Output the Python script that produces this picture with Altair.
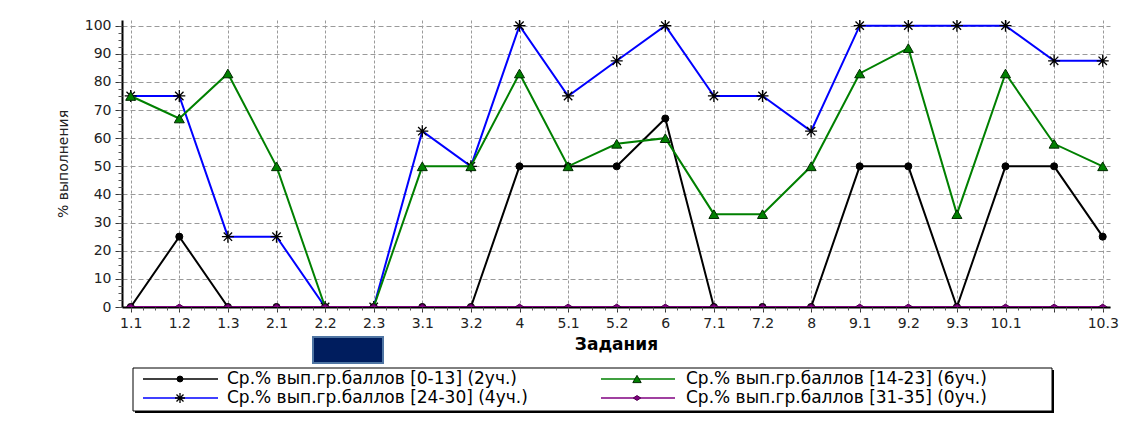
import json
import altair as alt
import pandas as pd

# ---------------- data ----------------
tasks = ["1.1", "1.2", "1.3", "2.1", "2.2", "2.3", "3.1", "3.2", "4", "5.1", "5.2",
         "6", "7.1", "7.2", "8", "9.1", "9.2", "9.3", "10.1", "10.2", "10.3"]
hidden_labels = ["10.2"]  # label not shown on the reference axis

series_names = [
    "Ср.% вып.гр.баллов [0-13] (2уч.)",
    "Ср.% вып.гр.баллов [14-23] (6уч.)",
    "Ср.% вып.гр.баллов [24-30] (4уч.)",
    "Ср.% вып.гр.баллов [31-35] (0уч.)",
]
vals_0_13 = [0, 25, 0, 0, 0, 0, 0, 0, 50, 50, 50, 67, 0, 0, 0, 50, 50, 0, 50, 50, 25]
vals_14_23 = [75, 67, 83, 50, 0, 0, 50, 50, 83, 50, 58, 60, 33, 33, 50, 83, 92, 33, 83, 58, 50]
vals_24_30 = [75, 75, 25, 25, 0, 0, 62.5, 50, 100, 75, 87.5, 100, 75, 75, 62.5, 100, 100, 100, 100, 87.5, 87.5]
vals_31_35 = [0, 0, 0, 0, 0, 0, 0, 0, 0, 0, 0, 0, 0, 0, 0, 0, 0, 0, 0, 0, 0]

all_vals = [vals_0_13, vals_14_23, vals_24_30, vals_31_35]
rows = []
for s, (name, vals) in enumerate(zip(series_names, all_vals)):
    for i, v in enumerate(vals):
        rows.append({"s": s, "series": name, "idx": i, "task": tasks[i], "value": v})
df = pd.DataFrame(rows)

# ---------------- layout helpers ----------------
PAD_L, PAD_T, PAD_R, PAD_B = 114, 12, 17, 118
W, H = 988, 287
X_DOM = [-0.179, 20.15]
Y_DOM = [0, 102]
ORX, ORY = 8 + PAD_L, 8 + PAD_T


def px_x(px):
    return X_DOM[0] + (px - ORX) * (X_DOM[1] - X_DOM[0]) / W


def px_y(py):
    return Y_DOM[1] - (py - ORY) * (Y_DOM[1] - Y_DOM[0]) / H


xs = alt.Scale(domain=X_DOM, nice=False, zero=False)
ys = alt.Scale(domain=Y_DOM, nice=False, zero=False)
FONT = "DejaVu Sans"

label_list = ["" if t in hidden_labels else t for t in tasks]
label_expr = json.dumps(label_list) + "[round(datum.value)]"

x_main = alt.Axis(values=list(range(len(tasks))), labelExpr=label_expr, grid=True,
                  gridDash=[3, 2], gridColor="#9a9a9a", gridWidth=1,
                  domainColor="black", domainWidth=2, tickColor="#333", tickSize=5,
                  labelFont=FONT, labelFontSize=14, labelColor="#222", labelPadding=4,
                  labelFlush=False, labelOverlap=False,
                  title="Задания", titleFont=FONT, titleFontSize=17,
                  titleFontWeight="bold", titleColor="black", titlePadding=6)
y_main = alt.Axis(values=list(range(0, 101, 10)), grid=True, gridDash=[5, 3],
                  gridColor="#9a9a9a", gridWidth=1, domainColor="black", domainWidth=2,
                  tickColor="#333", tickSize=7, labelFont=FONT, labelFontSize=14,
                  labelColor="#222", labelPadding=4,
                  title="% выполнения", titleFont=FONT, titleFontSize=14,
                  titleFontWeight="normal", titleColor="#222", titlePadding=14)
x_minor = alt.Axis(values=[i * 0.25 for i in range(0, 81)], labels=False, domain=False,
                   grid=False, tickColor="#555", tickSize=3, title=None, orient="bottom")
y_minor = alt.Axis(values=[i * 2.5 for i in range(0, 41)], labels=False, domain=False,
                   grid=False, tickColor="#555", tickSize=4, title=None, orient="left")

styles = [
    dict(line="#000000", shape="circle", size=50, fill="#000000", stroke="#000000", sw=1, filled=True),
    dict(line="#008000", shape="triangle-up", size=100, fill="#008000", stroke="#002a00", sw=1, filled=True),
    dict(line="#0000ff", shape="M-1,0L1,0M0,-1L0,1M-0.7,-0.7L0.7,0.7M-0.7,0.7L0.7,-0.7",
         size=144, fill="none", stroke="#000000", sw=1.3, filled=False),
    dict(line="#800080", shape="M-1,0L0,-0.65L1,0L0,0.65Z", size=80, fill="#800080",
         stroke="#500050", sw=1, filled=True),
]

base = alt.Chart(df)
layers = []
draw_order = [0, 2, 1, 3]
for k, s in enumerate(draw_order):
    st = styles[s]
    d = base.transform_filter(alt.datum.s == s)
    if k == 0:
        xa, ya = x_main, y_main
    elif k == 1:
        xa, ya = x_minor, y_minor
    else:
        xa, ya = None, None
    layers.append(d.mark_line(color=st["line"], strokeWidth=2, clip=True).encode(
        x=alt.X("idx:Q", scale=xs, axis=xa),
        y=alt.Y("value:Q", scale=ys, axis=ya),
    ))
    layers.append(d.mark_point(shape=st["shape"], size=st["size"], filled=st["filled"],
                               fill=st["fill"], stroke=st["stroke"], strokeWidth=st["sw"],
                               opacity=1, clip=True).encode(
        x=alt.X("idx:Q", scale=xs, axis=None),
        y=alt.Y("value:Q", scale=ys, axis=None),
    ))

# ---------------- legend (built from the series list) ----------------
leg_rows = []
col_px = [(143, 218, 180, 227), (601, 675, 637, 686)]
row_py = [379, 398]
for s, name in enumerate(series_names):
    c, r = s % 2, s // 2
    x1, x2, xm, xt = col_px[c]
    leg_rows.append({"s": s, "c": c, "label": name, "x1": px_x(x1), "x2": px_x(x2),
                     "xm": px_x(xm), "xt": px_x(xt), "ly": px_y(row_py[r])})
leg = pd.DataFrame(leg_rows)
box = pd.DataFrame([{"bx1": px_x(133), "bx2": px_x(1052), "by1": px_y(368), "by2": px_y(411)}])
navy = pd.DataFrame([{"bx1": px_x(313), "bx2": px_x(383), "by1": px_y(337), "by2": px_y(363)}])

box_enc = dict(x=alt.X("bx1:Q", scale=xs, axis=None), x2="bx2:Q",
               y=alt.Y("by1:Q", scale=ys, axis=None), y2="by2:Q")
layers.append(alt.Chart(box).mark_rect(fill="black", xOffset=2, x2Offset=2, yOffset=2,
                                       y2Offset=2).encode(**box_enc))
layers.append(alt.Chart(box).mark_rect(fill="white", stroke="black", strokeWidth=1).encode(**box_enc))
layers.append(alt.Chart(navy).mark_rect(fill="#001d5e", stroke="#4f75a3", strokeWidth=2).encode(**box_enc))

lb = alt.Chart(leg)
for s in range(4):
    st = styles[s]
    d = lb.transform_filter(alt.datum.s == s)
    layers.append(d.mark_rule(color=st["line"], strokeWidth=1.3).encode(
        x=alt.X("x1:Q", scale=xs, axis=None), x2="x2:Q",
        y=alt.Y("ly:Q", scale=ys, axis=None)))
    layers.append(d.mark_point(shape=st["shape"], size=st["size"] * 0.7, filled=st["filled"],
                               fill=st["fill"], stroke=st["stroke"], strokeWidth=st["sw"],
                               opacity=1).encode(
        x=alt.X("xm:Q", scale=xs, axis=None), y=alt.Y("ly:Q", scale=ys, axis=None)))
layers.append(lb.mark_text(
    align="left", baseline="middle", font=FONT, fontSize=17, color="black").encode(
    x=alt.X("xt:Q", scale=xs, axis=None), y=alt.Y("ly:Q", scale=ys, axis=None),
    text="label:N"))

chart = alt.layer(*layers).resolve_axis(x="independent", y="independent").properties(
    width=W, height=H,
    autosize=alt.AutoSizeParams(type="none"),
    padding={"left": PAD_L, "top": PAD_T, "right": PAD_R, "bottom": PAD_B},
    background="white",
).configure_view(stroke=None)

chart.save("out.html", embed_options={"renderer": "svg", "actions": False})
